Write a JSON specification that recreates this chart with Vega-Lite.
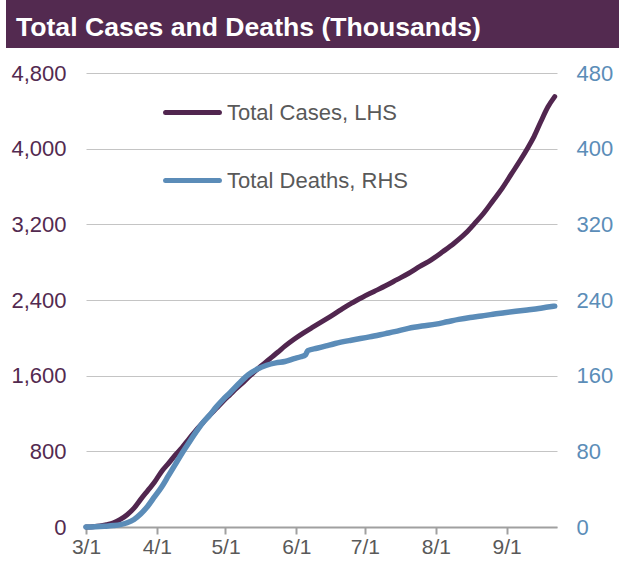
{
  "$schema": "https://vega.github.io/schema/vega-lite/v6.json",
  "padding": {"left": 6, "top": 0, "right": 0, "bottom": 0},
  "spacing": 14,
  "background": "white",
  "config": {"view": {"stroke": null}, "font": "Liberation Sans"},
  "datasets": {
    "cases": [
      {"date": "2020-03-01", "value": 0}, {"date": "2020-03-04", "value": 3}, {"date": "2020-03-07", "value": 10},
      {"date": "2020-03-10", "value": 25}, {"date": "2020-03-13", "value": 45}, {"date": "2020-03-16", "value": 80},
      {"date": "2020-03-19", "value": 130}, {"date": "2020-03-22", "value": 200}, {"date": "2020-03-25", "value": 295},
      {"date": "2020-03-28", "value": 385}, {"date": "2020-03-31", "value": 475}, {"date": "2020-04-03", "value": 585},
      {"date": "2020-04-06", "value": 670}, {"date": "2020-04-09", "value": 760}, {"date": "2020-04-12", "value": 840},
      {"date": "2020-04-15", "value": 930}, {"date": "2020-04-18", "value": 1020}, {"date": "2020-04-21", "value": 1100},
      {"date": "2020-04-24", "value": 1180}, {"date": "2020-04-27", "value": 1255}, {"date": "2020-04-30", "value": 1330},
      {"date": "2020-05-03", "value": 1400}, {"date": "2020-05-06", "value": 1470}, {"date": "2020-05-09", "value": 1535},
      {"date": "2020-05-12", "value": 1605}, {"date": "2020-05-15", "value": 1670}, {"date": "2020-05-18", "value": 1730},
      {"date": "2020-05-21", "value": 1790}, {"date": "2020-05-24", "value": 1850}, {"date": "2020-05-27", "value": 1912},
      {"date": "2020-05-31", "value": 1985}, {"date": "2020-06-04", "value": 2050}, {"date": "2020-06-08", "value": 2110},
      {"date": "2020-06-12", "value": 2168}, {"date": "2020-06-16", "value": 2228}, {"date": "2020-06-20", "value": 2290},
      {"date": "2020-06-25", "value": 2365}, {"date": "2020-06-30", "value": 2430}, {"date": "2020-07-05", "value": 2490},
      {"date": "2020-07-10", "value": 2550}, {"date": "2020-07-15", "value": 2615}, {"date": "2020-07-20", "value": 2680},
      {"date": "2020-07-25", "value": 2755}, {"date": "2020-07-30", "value": 2825}, {"date": "2020-08-04", "value": 2910},
      {"date": "2020-08-09", "value": 3000}, {"date": "2020-08-14", "value": 3105}, {"date": "2020-08-18", "value": 3210},
      {"date": "2020-08-22", "value": 3320}, {"date": "2020-08-26", "value": 3450}, {"date": "2020-08-30", "value": 3580},
      {"date": "2020-09-03", "value": 3730}, {"date": "2020-09-07", "value": 3880}, {"date": "2020-09-10", "value": 4000},
      {"date": "2020-09-13", "value": 4130}, {"date": "2020-09-16", "value": 4290}, {"date": "2020-09-19", "value": 4440},
      {"date": "2020-09-22", "value": 4550}
    ],
    "deaths": [
      {"date": "2020-03-01", "value": 0}, {"date": "2020-03-05", "value": 0.3}, {"date": "2020-03-09", "value": 0.8},
      {"date": "2020-03-13", "value": 1.5}, {"date": "2020-03-16", "value": 2.5}, {"date": "2020-03-19", "value": 4.5},
      {"date": "2020-03-22", "value": 8}, {"date": "2020-03-25", "value": 14}, {"date": "2020-03-28", "value": 22},
      {"date": "2020-03-31", "value": 32}, {"date": "2020-04-03", "value": 42}, {"date": "2020-04-06", "value": 54},
      {"date": "2020-04-09", "value": 66}, {"date": "2020-04-12", "value": 78}, {"date": "2020-04-15", "value": 89},
      {"date": "2020-04-18", "value": 100}, {"date": "2020-04-21", "value": 110}, {"date": "2020-04-24", "value": 118},
      {"date": "2020-04-27", "value": 127}, {"date": "2020-04-30", "value": 135}, {"date": "2020-05-03", "value": 142},
      {"date": "2020-05-07", "value": 152}, {"date": "2020-05-11", "value": 161}, {"date": "2020-05-15", "value": 167},
      {"date": "2020-05-19", "value": 171}, {"date": "2020-05-23", "value": 173.5}, {"date": "2020-05-27", "value": 175},
      {"date": "2020-05-31", "value": 178}, {"date": "2020-06-03", "value": 180}, {"date": "2020-06-05", "value": 182},
      {"date": "2020-06-06", "value": 186.5}, {"date": "2020-06-10", "value": 189}, {"date": "2020-06-14", "value": 191.5},
      {"date": "2020-06-18", "value": 194}, {"date": "2020-06-25", "value": 197.5}, {"date": "2020-07-03", "value": 201},
      {"date": "2020-07-10", "value": 204.5}, {"date": "2020-07-14", "value": 206.5}, {"date": "2020-07-20", "value": 210},
      {"date": "2020-07-26", "value": 212.5}, {"date": "2020-08-01", "value": 214.5}, {"date": "2020-08-06", "value": 217},
      {"date": "2020-08-11", "value": 219.5}, {"date": "2020-08-16", "value": 221.5}, {"date": "2020-08-21", "value": 223},
      {"date": "2020-08-26", "value": 225}, {"date": "2020-08-31", "value": 226.5}, {"date": "2020-09-05", "value": 228},
      {"date": "2020-09-10", "value": 229.5}, {"date": "2020-09-15", "value": 231}, {"date": "2020-09-19", "value": 232.5},
      {"date": "2020-09-22", "value": 233.5}
    ]
  },
  "vconcat": [
    {
      "width": 533,
      "height": 48,
      "data": {"values": [{"k": 1}]},
      "mark": {"type": "rect", "color": "#532a50", "x": -80, "x2": 533},
      "title": {
        "text": "Total Cases and Deaths (Thousands)",
        "anchor": "start",
        "frame": "group",
        "orient": "top",
        "offset": -63,
        "dx": -70,
        "baseline": "alphabetic",
        "color": "white",
        "font": "Liberation Sans",
        "fontSize": 26.6,
        "fontWeight": "bold"
      }
    },
    {
      "width": 471,
      "height": 454,
      "layer": [
        {
          "data": {"name": "cases"},
          "mark": {"type": "line", "strokeWidth": 5, "strokeCap": "round", "strokeJoin": "round", "interpolate": "monotone"},
          "encoding": {
            "x": {
              "field": "date", "type": "temporal",
              "scale": {"type": "utc", "domain": [{"year": 2020, "month": 3, "date": 1, "utc": true}, {"year": 2020, "month": 9, "date": 23, "utc": true}]},
              "axis": {
                "title": null, "grid": false, "format": "%-m/%-d", "labelFlush": false,
                "values": [
                  {"year": 2020, "month": 3, "date": 1, "utc": true}, {"year": 2020, "month": 4, "date": 1, "utc": true},
                  {"year": 2020, "month": 5, "date": 1, "utc": true}, {"year": 2020, "month": 6, "date": 1, "utc": true},
                  {"year": 2020, "month": 7, "date": 1, "utc": true}, {"year": 2020, "month": 8, "date": 1, "utc": true},
                  {"year": 2020, "month": 9, "date": 1, "utc": true}
                ],
                "domainColor": "#a0a0a0", "domainWidth": 2, "tickColor": "#a0a0a0", "tickWidth": 2, "tickSize": 7,
                "labelFont": "Liberation Sans", "labelFontSize": 21, "labelColor": "#595959", "labelPadding": 2
              }
            },
            "y": {
              "field": "value", "type": "quantitative",
              "scale": {"domain": [0, 4800], "nice": false},
              "axis": {
                "title": null, "orient": "left", "values": [0, 800, 1600, 2400, 3200, 4000, 4800], "format": ",.0f",
                "grid": true, "gridColor": "#c4c4c4", "gridWidth": 1, "domain": false, "ticks": false,
                "labelFont": "Liberation Sans", "labelFontSize": 22, "labelColor": "#532a50", "labelPadding": 20, "minExtent": 80
              }
            },
            "color": {
              "datum": "Total Cases, LHS", "type": "nominal",
              "scale": {"domain": ["Total Cases, LHS", "Total Deaths, RHS"], "range": ["#51264f", "#5b8cb8"]},
              "legend": {
                "orient": "none", "legendX": 77, "legendY": 10, "title": null, "direction": "vertical",
                "labelFont": "Liberation Sans", "labelFontSize": 22, "labelColor": "#595959", "labelOffset": 5, "labelLimit": 400,
                "symbolType": "stroke", "symbolSize": 2900, "symbolStrokeWidth": 5, "rowPadding": 27,
                "encode": {"symbols": {"update": {"strokeCap": {"value": "round"}}}}
              }
            }
          }
        },
        {
          "data": {"name": "deaths"},
          "mark": {"type": "line", "strokeWidth": 5.5, "strokeCap": "round", "strokeJoin": "round", "interpolate": "monotone"},
          "encoding": {
            "x": {"field": "date", "type": "temporal"},
            "y": {
              "field": "value", "type": "quantitative",
              "scale": {"domain": [0, 480], "nice": false},
              "axis": {
                "title": null, "orient": "right", "values": [0, 80, 160, 240, 320, 400, 480],
                "grid": false, "domain": false, "ticks": false,
                "labelFont": "Liberation Sans", "labelFontSize": 22, "labelColor": "#5b8db8", "labelPadding": 19
              }
            },
            "color": {"datum": "Total Deaths, RHS", "type": "nominal"}
          }
        }
      ],
      "resolve": {"scale": {"y": "independent"}}
    }
  ],
  "resolve": {"scale": {"color": "independent"}, "legend": {"color": "independent"}}
}
